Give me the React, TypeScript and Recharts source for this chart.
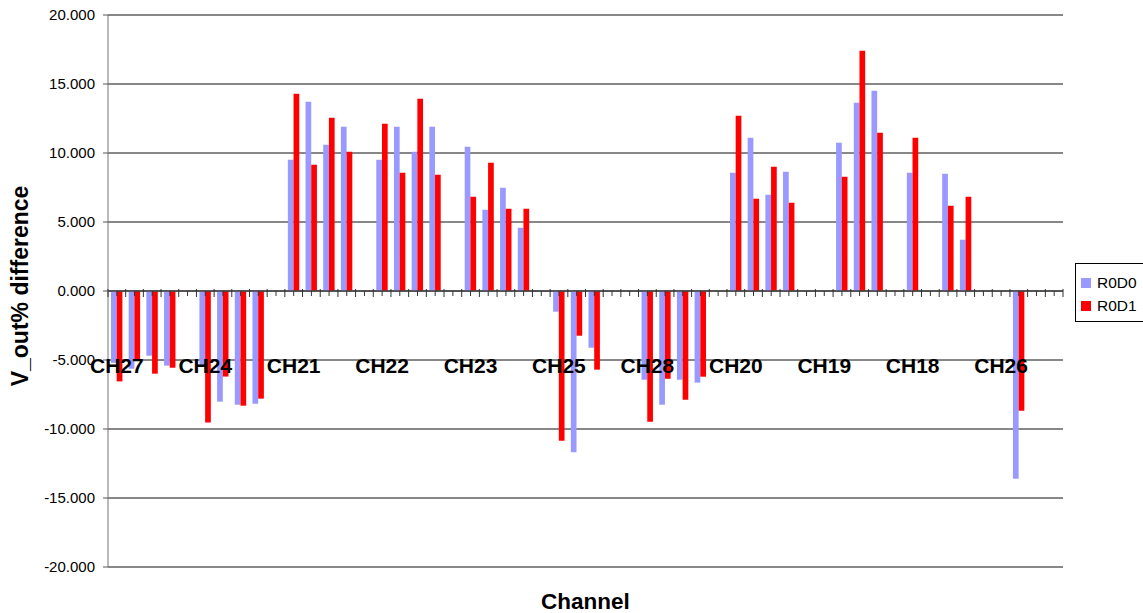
import React from 'react'
import {
  BarChart,
  Bar,
  XAxis,
  YAxis,
  CartesianGrid,
  ReferenceLine,
  Legend,
} from 'recharts'

// channel group labels, one every 5 categories
const GROUPS = ['CH27', 'CH24', 'CH21', 'CH22', 'CH23', 'CH25', 'CH28', 'CH20', 'CH19', 'CH18', 'CH26']

// 54 categories, null = empty slot
const R0D0 = [
  -5.2, -5.63, -4.69, -5.41, null,
  -5.5, -8.02, -8.24, -8.17, null,
  9.51, 13.72, 10.6, 11.9, null,
  9.51, 11.9, 10.09, 11.9, null,
  10.46, 5.89, 7.49, 4.59, null,
  -1.5, -11.69, -4.11, null, null,
  -6.43, -8.24, -6.43, -6.64, null,
  8.57, 11.11, 6.98, 8.64, null,
  null, 10.75, 13.64, 14.51, null,
  8.57, null, 8.5, 3.72, null,
  null, -13.6, null, null,
]

const R0D1 = [
  -6.55, -5.03, -5.99, -5.56, null,
  -9.52, -6.2, -8.31, -7.8, null,
  14.3, 9.15, 12.56, 10.09, null,
  12.12, 8.57, 13.93, 8.43, null,
  6.83, 9.3, 5.96, 5.96, null,
  -10.85, -3.24, -5.7, null, null,
  -9.47, -6.36, -7.88, -6.21, null,
  12.7, 6.69, 9.01, 6.4, null,
  null, 8.28, 17.41, 11.47, null,
  11.11, null, 6.18, 6.83, null,
  null, -8.67, null, null,
]

const Y_TICKS = [-20, -15, -10, -5, 0, 5, 10, 15, 20]

const COLORS = {
  blue: '#9999FF',
  red: '#FF0000',
}

const FONT = '"Liberation Sans", Arial, Helvetica, sans-serif'

const W = 1143
const H = 613
const M = { top: 15, right: 80, bottom: 0, left: 0 }
const Y_W = 108
const X_H = 45
const LAB_H = 1
const PLOT_W = W - M.left - M.right - Y_W
const PLOT_H = H - M.top - M.bottom - X_H - LAB_H
const ZERO_Y = M.top + PLOT_H / 2
const BAND = PLOT_W / R0D0.length

const data = R0D0.map((v, i) => ({
  idx: i,
  r0d0: v,
  r0d1: R0D1[i],
}))

function TickMarks(props: any) {
  const { x, index } = props
  const last = index === R0D0.length - 1
  return (
    <g>
      <line x1={x - BAND / 2} x2={x - BAND / 2} y1={ZERO_Y - 2} y2={ZERO_Y + 6} stroke="#333" />
      <line x1={x} x2={x} y1={ZERO_Y} y2={ZERO_Y + 5} stroke="#333" />
      {last && (
        <line x1={x + BAND / 2} x2={x + BAND / 2} y1={ZERO_Y - 2} y2={ZERO_Y + 6} stroke="#333" />
      )}
    </g>
  )
}

function GroupLabel(props: any) {
  const { x, index } = props
  if (index % 5 !== 0) return <g />
  return (
    <text
      x={x}
      y={ZERO_Y + 82}
      textAnchor="middle"
      fontFamily={FONT}
      fontWeight="bold"
      fontSize={21}
      fill="#000"
    >
      {GROUPS[index / 5]}
    </text>
  )
}

function LegendBox() {
  const items = [
    { name: 'R0D0', color: COLORS.blue },
    { name: 'R0D1', color: COLORS.red },
  ]
  return (
    <div
      style={{
        border: '1px solid #000',
        background: '#fff',
        padding: '7px 6px 4px 5px',
        fontFamily: FONT,
        fontSize: 15.5,
        color: '#000',
      }}
    >
      {items.map((it) => (
        <div key={it.name} style={{ display: 'flex', alignItems: 'center', height: 23 }}>
          <span style={{ width: 10, height: 10, background: it.color, marginRight: 6 }} />
          <span>{it.name}</span>
        </div>
      ))}
    </div>
  )
}

export default function App() {
  return (
    <div style={{ position: 'absolute', left: 0, top: 0, background: '#fff' }}>
      <BarChart width={W} height={H} data={data} margin={M} barGap={0} barSize={5.7}>
        <CartesianGrid vertical={false} stroke="#111" />
        <XAxis
          dataKey="idx"
          height={X_H}
          interval={0}
          axisLine={false}
          tickLine={false}
          tick={TickMarks}
          label={() => (
            <text
              x={M.left + Y_W + PLOT_W / 2}
              y={609}
              textAnchor="middle"
              fontFamily={FONT}
              fontWeight="bold"
              fontSize={22.5}
              fill="#000"
            >
              Channel
            </text>
          )}
        />
        <YAxis
          width={Y_W}
          domain={[-20, 20]}
          ticks={Y_TICKS}
          interval={0}
          allowDataOverflow
          tickFormatter={(v: number) => v.toFixed(3)}
          tick={{ fontSize: 15, fill: '#000', fontFamily: FONT }}
          tickSize={5}
          tickMargin={8}
          tickLine={{ stroke: '#555' }}
          axisLine={{ stroke: '#777' }}
          label={() => (
            <text
              x={28}
              y={286}
              transform="rotate(-90 28 286)"
              textAnchor="middle"
              fontFamily={FONT}
              fontWeight="bold"
              fontSize={23}
              fill="#000"
            >
              V_out% difference
            </text>
          )}
        />
        <Bar dataKey="r0d0" name="R0D0" fill={COLORS.blue} isAnimationActive={false} />
        <Bar dataKey="r0d1" name="R0D1" fill={COLORS.red} isAnimationActive={false} />
        <ReferenceLine y={0} stroke="#444" strokeWidth={1.5} />
        <XAxis
          xAxisId="labels"
          dataKey="idx"
          height={LAB_H}
          interval={0}
          axisLine={false}
          tickLine={false}
          tick={GroupLabel}
        />
        <Legend
          layout="vertical"
          align="center"
          verticalAlign="middle"
          wrapperStyle={{ left: 1075, top: 263, width: 'auto', height: 'auto' }}
          content={() => <LegendBox />}
        />
      </BarChart>
    </div>
  )
}
